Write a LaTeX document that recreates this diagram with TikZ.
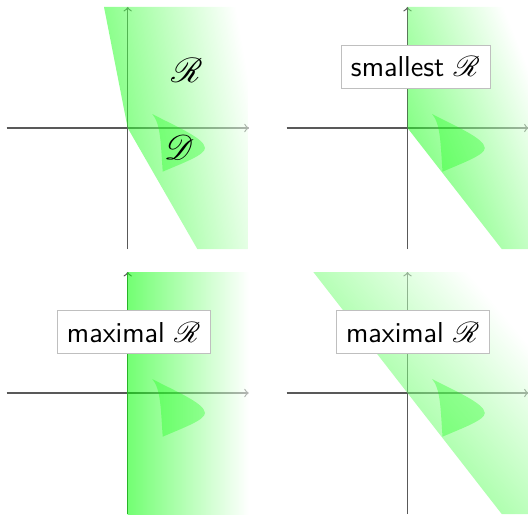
\documentclass[tikz,border=0pt]{standalone}
\usepackage{mathrsfs}
\begin{document}
\begin{tikzpicture}[x=0.5pt,y=0.5pt,
  axis/.style={draw=black!65, line width=0.6pt, ->},
  region/.style={opacity=0.55, left color=green, right color=white},
  blob/.style={fill=green, opacity=0.3, draw=none},
  tag/.style={draw=black!25, fill=white, line width=0.4pt, font=\Large\sffamily, inner xsep=5pt, inner ysep=5.6pt},
  sym/.style={font=\LARGE}]
\useasboundingbox (0,0) rectangle (528,514);
\def\blobpath{(24.6,14) .. controls (45,3) and (77,-10) .. (77.3,-20) .. controls (77.5,-27) and (55,-35) .. (35,-43.7) .. controls (33,-15) and (33,4) .. (24.6,14) -- cycle}
% panel 1
\begin{scope}[shift={(127.7,386)}]
  \coordinate (w1) at (-121,0); \coordinate (e1) at (121,0);
  \coordinate (s1) at (0,-121); \coordinate (n1) at (0,121);
  \draw[axis] (w1) -- (e1);
  \draw[axis] (s1) -- (n1);
  \begin{scope}
    \clip (-121,-121) rectangle (121,121);
    \shade[region, shading angle=100] (-23.7,121) -- (0,0) -- (69.6,-121) -- (121,-121) -- (121,121) -- cycle;
  \end{scope}
  \fill[blob] \blobpath;
  \node[sym] (r1) at (59.3,58) {$\mathscr{R}$};
  \node[sym] (d1) at (51.3,-19) {$\mathscr{D}$};
\end{scope}
% panel 2
\begin{scope}[shift={(407.5,386)}]
  \coordinate (w2) at (-121,0); \coordinate (e2) at (121,0);
  \coordinate (s2) at (0,-121); \coordinate (n2) at (0,121);
  \draw[axis] (w2) -- (e2);
  \draw[axis] (s2) -- (n2);
  \begin{scope}
    \clip (-121,-121) rectangle (121,121);
    \shade[region, shading angle=112] (0,121) -- (0,0) -- (94.2,-121) -- (121,-121) -- (121,121) -- cycle;
  \end{scope}
  \fill[blob] \blobpath;
  \node[tag] (t2) at (8,61) {smallest $\mathscr{R}$};
\end{scope}
% panel 3
\begin{scope}[shift={(127.7,121)}]
  \coordinate (w3) at (-121,0); \coordinate (e3) at (121,0);
  \coordinate (s3) at (0,-121); \coordinate (n3) at (0,121);
  \draw[axis] (w3) -- (e3);
  \draw[axis] (s3) -- (n3);
  \begin{scope}
    \clip (-121,-121) rectangle (121,121);
    \shade[region, shading angle=90] (0,121) -- (0,-121) -- (121,-121) -- (121,121) -- cycle;
  \end{scope}
  \fill[blob] \blobpath;
  \node[tag] (t3) at (6,60.7) {maximal $\mathscr{R}$};
\end{scope}
% panel 4
\begin{scope}[shift={(407.5,121)}]
  \coordinate (w4) at (-121,0); \coordinate (e4) at (121,0);
  \coordinate (s4) at (0,-121); \coordinate (n4) at (0,121);
  \draw[axis] (w4) -- (e4);
  \draw[axis] (s4) -- (n4);
  \begin{scope}
    \clip (-121,-121) rectangle (121,121);
    \shade[region, shading angle=130] (-94.2,121) -- (94.2,-121) -- (121,-121) -- (121,121) -- cycle;
  \end{scope}
  \fill[blob] \blobpath;
  \node[tag] (t4) at (5.3,60.7) {maximal $\mathscr{R}$};
\end{scope}
\end{tikzpicture}
\end{document}
